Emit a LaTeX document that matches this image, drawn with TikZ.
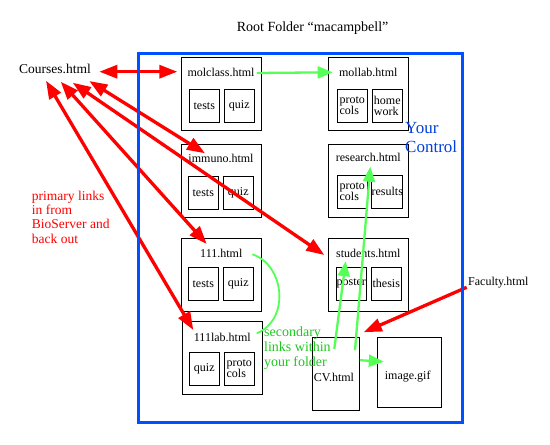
\documentclass[tikz,border=0pt]{standalone}
\usepackage{fontspec}
\setmainfont{Liberation Serif}
\usetikzlibrary{arrows.meta,calc}
\definecolor{linkred}{RGB}{255,0,0}
\definecolor{linkgreen}{RGB}{85,255,85}
\definecolor{notegreen}{RGB}{30,200,30}
\definecolor{folderblue}{RGB}{0,80,255}
\definecolor{ctrlblue}{RGB}{0,64,220}
\begin{document}
\begin{tikzpicture}[x=1pt,y=-1pt,
			every node/.style={font=\fontsize{12}{11}\selectfont,inner sep=0pt},
			page/.style={draw,line width=1pt,minimum width=80pt,minimum height=73pt},
			part/.style={draw,line width=1pt,minimum width=30pt,minimum height=33pt,align=left},
			redlink/.style={draw=linkred,line width=3.3pt,>={Triangle[length=18pt,width=13pt]}},
			greenlink/.style={draw=linkgreen,line width=2.3pt,>={Triangle[length=15pt,width=12pt]}}]
			\useasboundingbox (0,0) rectangle (550,445);

			\node[page] (molclass) at (221,93.5) {};
			\node (molclasslbl) at (221,72) {molclass.html};
			\node[part] (moltests) at (204.3,105.7) {tests};
			\node[part] (molquiz) at (239.3,105.7) {quiz};

			\node[page] (immuno) at (221,180.5) {};
			\node (immunolbl) at (221,158) {immuno.html};
			\node[part] (imtests) at (203.3,192.7) {tests};
			\node[part] (imquiz) at (238.3,192.7) {quiz};

			\node[page] (oneeleven) at (221.3,275) {};
			\node (oneelevenlbl) at (221.3,253.3) {111.html};
			\node[part] (oetests) at (203.3,283.8) {tests};
			\node[part] (oequiz) at (238.3,283.8) {quiz};

			\node[page] (lab) at (222.3,357.7) {};
			\node (lablbl) at (222.3,337.3) {111lab.html};
			\node[part] (labquiz) at (204.3,368.8) {quiz};
			\node[part] (labproto) at (239.3,368.8) {proto\\cols};

			\node[page] (mollab) at (368.3,93.7) {};
			\node (mollablbl) at (368.3,72.3) {mollab.html};
			\node[part] (mlproto) at (352.3,105.7) {proto\\cols};
			\node[part] (mlhome) at (387.3,105.7) {home\\work};

			\node[page] (research) at (368.3,180.8) {};
			\node (researchlbl) at (368.3,157.3) {research.html};
			\node[part] (reproto) at (352.3,191.8) {proto\\cols};
			\node[part] (reresults) at (387.3,191.8) {results};

			\node[page] (students) at (368.3,274.7) {};
			\node (studentslbl) at (368.3,253.3) {students.html};
			\node[part] (stposter) at (351.3,283.8) {poster};
			\node[part] (stthesis) at (386.3,283.8) {thesis};

			\node[page,minimum width=47pt] (cv) at (335.8,373.8) {};
			\node (cvlbl) at (334,377.7) {CV.html};
			\node[page,minimum width=64pt,minimum height=70pt] (image) at (409.3,372.3) {};
			\node (imagelbl) at (407.7,376.7) {image.gif};

			\node[font=\fontsize{14}{16}\selectfont] (title) at (312.6,27.7) {Root Folder “macampbell”};
			\node[font=\fontsize{13.5}{16}\selectfont] (courses) at (55,69) {Courses.html};
			\node[anchor=west] (faculty) at (468,282.7) {Faculty.html};
			\node[anchor=west,align=left,text=linkred,font=\fontsize{13.5}{14.4}\selectfont] (primary) at (31.7,217) {primary links\\in from\\BioServer and\\back out};
			\node[anchor=west,align=left,text=notegreen,font=\fontsize{14}{14.7}\selectfont] (secondary) at (264,348) {secondary\\links within\\your folder};
			\node[anchor=west,align=left,text=ctrlblue,font=\fontsize{17}{18.4}\selectfont] (control) at (405,137.5) {Your\\Control};

			% primary links
			\draw[redlink,<->] ($(courses)+(44.3,2.7)$) -- ($(molclasslbl)+(-43.7,-0.3)$);
			\draw[redlink,<->] ($(courses)+(-9,11.7)$) -- ($(lablbl)+(-29,-7.3)$);
			\draw[redlink,<->] ($(courses)+(5.7,12.7)$) -- ($(oneelevenlbl)+(-14.6,-9.3)$);
			\draw[redlink,<->] ($(courses)+(17.7,13.7)$) -- ($(studentslbl)+(-44,1.7)$);
			\draw[redlink,<->] ($(courses)+(34.3,12)$) -- ($(immunolbl)+(-16,-4.7)$);
			\draw[redlink,->] ($(faculty.west)+(-1.3,4.6)$) -- ($(cv.north east)+(4,-4.6)$);

			\draw[folderblue,line width=2.7pt] (138.7,53.3) rectangle (462.3,422.7);

			% secondary links
			\draw[greenlink,->] ($(molclasslbl)+(36,1)$) -- ($(mollablbl)+(-35.6,0)$);
			\draw[greenlink,line width=1.8pt] ($(oneelevenlbl)+(31,1)$) .. controls (285,265) and (290,320) .. ($(lablbl)+(34.4,-4)$);
			\draw[greenlink,->] ($(cv.north)+(-1.5,12)$) -- ($(stposter.north)+(-5.6,-5.6)$);
			\draw[greenlink,->] ($(cv.north)+(19.2,13.4)$) -- ($(researchlbl)+(2,9.4)$);
			\draw[greenlink,->] ($(cv.north east)+(0,23.4)$) -- ($(image.west)+(7,-10.6)$);
		\end{tikzpicture}
\end{document}
